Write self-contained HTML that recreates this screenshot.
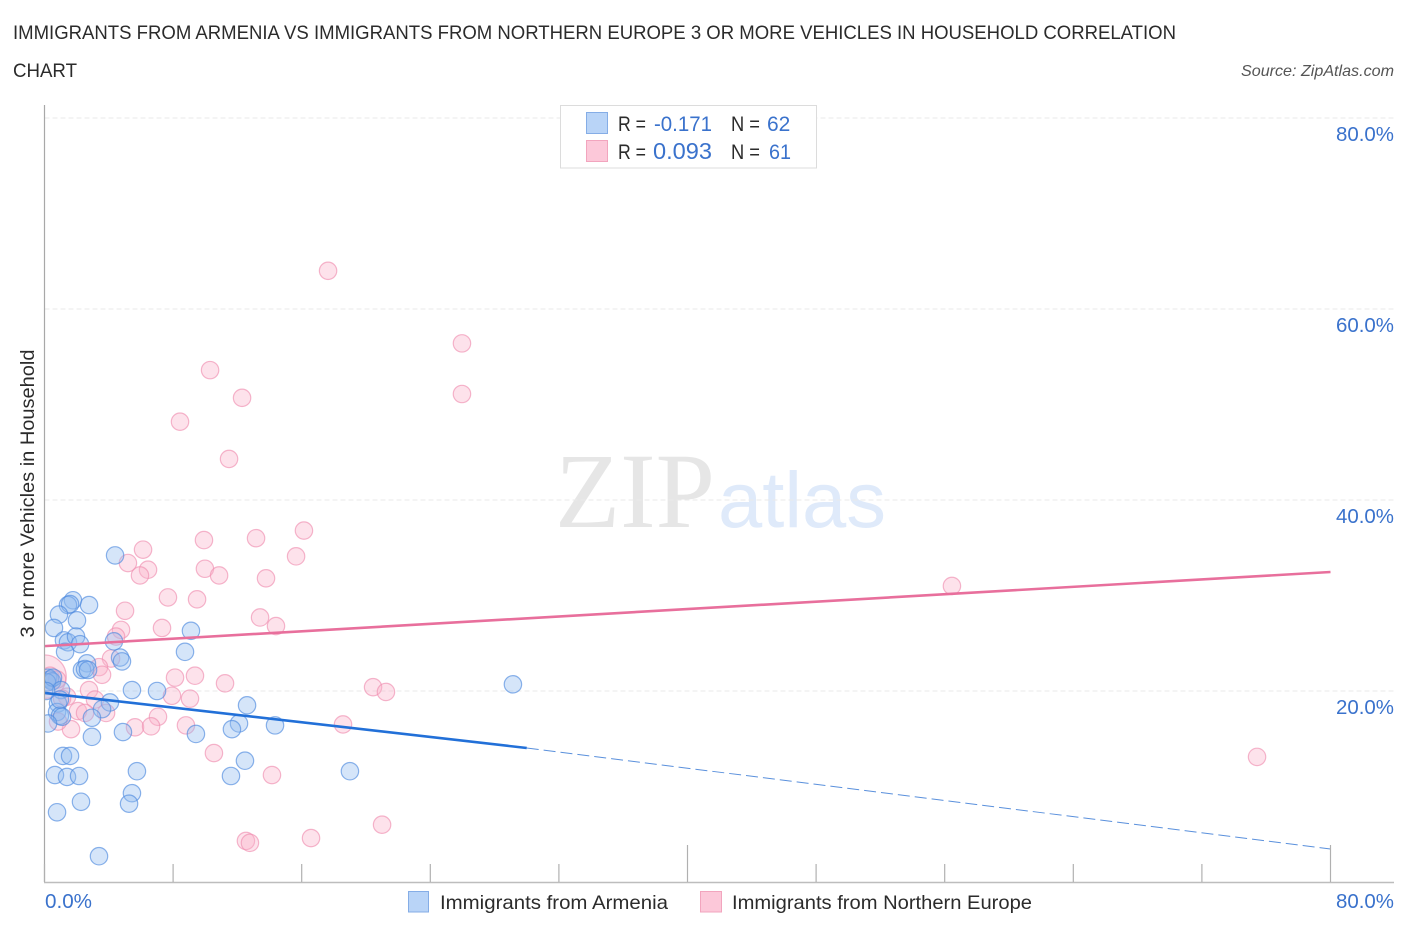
<!DOCTYPE html>
<html lang="en">
<head>
<meta charset="utf-8">
<title>Immigrants from Armenia vs Immigrants from Northern Europe</title>
<style>
html,body{margin:0;padding:0;background:#fff;width:1406px;height:930px;overflow:hidden}
svg{display:block;font-family:"Liberation Sans",sans-serif}
</style>
</head>
<body>
<svg id="chart" width="1406" height="930" viewBox="0 0 1406 930">
  <defs><clipPath id="plot-clip"><rect x="44.5" y="100" width="1350" height="782"/></clipPath></defs>
  <text x="13" y="39" font-size="19" fill="#2b2b2b" textLength="1163" lengthAdjust="spacingAndGlyphs">IMMIGRANTS FROM ARMENIA VS IMMIGRANTS FROM NORTHERN EUROPE 3 OR MORE VEHICLES IN HOUSEHOLD CORRELATION</text>
  <text x="13" y="77" font-size="19" fill="#2b2b2b" textLength="64" lengthAdjust="spacingAndGlyphs">CHART</text>
  <text x="1394" y="76" font-size="16" font-style="italic" fill="#555" text-anchor="end" textLength="153" lengthAdjust="spacingAndGlyphs">Source: ZipAtlas.com</text>

  <g id="watermark">
    <text x="555" y="527" font-family="'Liberation Serif',serif" font-size="107" fill="#e6e6e6" textLength="160" lengthAdjust="spacingAndGlyphs">ZIP</text>
    <text x="718" y="527" font-family="'Liberation Sans',sans-serif" font-size="79" fill="#dfeafa" textLength="168" lengthAdjust="spacingAndGlyphs">atlas</text>
  </g>

  <g id="grid"></g>
  <g id="points" clip-path="url(#plot-clip)"></g>
  <g id="trends"></g>
  <g id="axes"></g>

  <text transform="translate(34,493.5) rotate(-90)" font-size="19.5" fill="#2b2b2b" text-anchor="middle" textLength="288" lengthAdjust="spacingAndGlyphs">3 or more Vehicles in Household</text>

  <g>
    <rect x="560.5" y="105.5" width="256" height="62.5" fill="#fff" stroke="#dcdcdc"/>
    <rect x="586.5" y="112.5" width="21" height="21" fill="#b9d4f7" stroke="#85ade6"/>
    <rect x="586.5" y="140.5" width="21" height="21" fill="#fcc8d9" stroke="#f2a5be"/>
    <g font-size="21" fill="#2b2b2b">
      <text x="618" y="131" textLength="28" lengthAdjust="spacingAndGlyphs">R =</text>
      <text x="654" y="131" fill="#3a72cc" textLength="58" lengthAdjust="spacingAndGlyphs">-0.171</text>
      <text x="731" y="131" textLength="29" lengthAdjust="spacingAndGlyphs">N =</text>
      <text x="767" y="131" fill="#3a72cc">62</text>
      <text x="618" y="159" textLength="28" lengthAdjust="spacingAndGlyphs">R =</text>
      <text x="653" y="159" fill="#3a72cc" font-size="23" textLength="59" lengthAdjust="spacingAndGlyphs">0.093</text>
      <text x="731" y="159" textLength="29" lengthAdjust="spacingAndGlyphs">N =</text>
      <text x="769" y="159" fill="#3a72cc" textLength="22" lengthAdjust="spacingAndGlyphs">61</text>
    </g>
  </g>

  <g>
    <rect x="408.5" y="891.5" width="20" height="20.5" fill="#b9d4f7" stroke="#85ade6"/>
    <text x="440" y="909" font-size="19.5" fill="#2b2b2b" textLength="228" lengthAdjust="spacingAndGlyphs">Immigrants from Armenia</text>
    <rect x="700.5" y="891.5" width="21" height="20.5" fill="#fcc8d9" stroke="#f2a5be"/>
    <text x="732" y="909" font-size="19.5" fill="#2b2b2b" textLength="300" lengthAdjust="spacingAndGlyphs">Immigrants from Northern Europe</text>
  </g>
</svg>
<script>
const yTickValues = [20, 40, 60, 80];
const yTickLabels = ["20.0%", "40.0%", "60.0%", "80.0%"];
const xTickValues = [0, 8, 16, 24, 32, 40, 48, 56, 64, 72, 80];
const xTallTicks = [40, 80];
const xEndLabels = ["0.0%", "80.0%"];

const armeniaX = [4.39,1.77,1.46,1.59,2.77,0.90,2.02,0.59,1.21,1.46,1.96,2.21,1.28,9.11,8.74,4.32,4.70,4.82,2.64,2.33,2.52,2.71,29.14,5.44,7.00,0.22,0.34,0.47,0.16,0.53,1.03,4.07,3.58,0.84,0.78,0.96,1.09,0.22,2.95,12.60,12.10,11.66,14.34,9.42,4.88,2.95,12.47,11.60,5.75,19.00,1.15,1.59,0.65,1.40,2.15,5.44,5.26,2.27,0.78,3.39,0.96,0.10];
const armeniaY = [34.2,29.5,29.0,29.1,29.0,28.0,27.4,26.6,25.3,25.1,25.7,24.9,24.1,26.3,24.1,25.2,23.5,23.1,22.9,22.2,22.3,22.2,20.7,20.1,20.0,21.4,21.2,21.0,20.9,21.4,20.1,18.8,18.1,18.7,17.8,17.4,17.3,16.6,17.2,18.5,16.6,16.0,16.4,15.5,15.7,15.2,12.7,11.1,11.6,11.6,13.2,13.2,11.2,11.0,11.1,9.3,8.2,8.4,7.3,2.7,19.1,20.0];

const europeX = [0.00,0.34,0.78,17.64,25.97,25.97,10.30,12.29,8.43,11.48,16.14,6.13,13.16,9.92,15.65,9.98,5.19,6.44,5.94,10.86,13.78,5.01,7.68,9.49,13.41,14.40,56.45,4.76,7.31,4.45,4.14,3.39,3.58,9.36,8.12,11.23,2.77,20.44,21.24,7.93,9.05,3.14,1.40,1.09,3.83,7.06,8.80,18.57,5.63,6.63,2.08,2.52,1.65,0.84,10.54,14.15,12.53,12.78,16.58,21.00,75.43];
const europeY = [21.5,21.6,21.2,64.0,56.4,51.1,53.6,50.7,48.2,44.3,36.8,34.8,36.0,35.8,34.1,32.8,33.4,32.7,32.1,32.1,31.8,28.4,29.8,29.6,27.7,26.8,31.0,26.4,26.6,25.7,23.4,22.5,21.7,21.6,21.4,20.8,20.1,20.4,19.9,19.5,19.2,19.1,19.4,19.2,17.7,17.3,16.4,16.5,16.2,16.3,17.9,17.7,16.0,16.8,13.5,11.2,4.3,4.1,4.6,6.0,13.1];
const europeWeight = [2.5];

const armeniaTrendX = [0, 30, 80];
const armeniaTrendY = [19.8, 14.03, 3.46];
const europeTrendX = [0, 80];
const europeTrendY = [24.7, 32.46];

const NS = "http://www.w3.org/2000/svg";
const xScale = v => 44.5 + v * 16.075;
const yScale = v => 882 - v * 9.55;
const BASE_R = 8.7;

function make(tag, attrs, parent) {
  const el = document.createElementNS(NS, tag);
  Object.keys(attrs).forEach(k => el.setAttribute(k, attrs[k]));
  parent.appendChild(el);
  return el;
}

const grid = document.getElementById("grid");
const axes = document.getElementById("axes");
const points = document.getElementById("points");
const trends = document.getElementById("trends");

yTickValues.forEach((v, i) => {
  const line = make("line", {x1: 44.5, x2: 1394, y1: yScale(v), y2: yScale(v), stroke: "#e9e9e9", "stroke-width": 1, "stroke-dasharray": "5 3"}, grid);
  
  
  const label = make("text", {x: 1394, y: yScale(v) + 23, "font-size": 20, fill: "#3a72cc", "text-anchor": "end", textLength: 58, lengthAdjust: "spacingAndGlyphs"}, axes);
  label.textContent = yTickLabels[i];
  
  
});

const yAxis = make("line", {x1: 44.5, x2: 44.5, y1: 105, y2: 882, stroke: "#a8a8a8", "stroke-width": 1.2}, axes);


const xAxis = make("line", {x1: 44, x2: 1394, y1: 882.5, y2: 882.5, stroke: "#bdbdbd", "stroke-width": 1.5}, axes);



xTickValues.forEach(v => {
  const tall = xTallTicks.includes(v);
  const tick = make("line", {x1: xScale(v), x2: xScale(v), y1: tall ? 845 : 864, y2: 882, stroke: "#b0b0b0", "stroke-width": 1.2}, axes);
  
  
});

const xLabelStart = make("text", {x: 45, y: 908, "font-size": 20, fill: "#3a72cc", textLength: 47, lengthAdjust: "spacingAndGlyphs"}, axes);
xLabelStart.textContent = xEndLabels[0];


const xLabelEnd = make("text", {x: 1394, y: 908, "font-size": 20, fill: "#3a72cc", "text-anchor": "end", textLength: 58, lengthAdjust: "spacingAndGlyphs"}, axes);
xLabelEnd.textContent = xEndLabels[1];



europeX.forEach((x, i) => {
  const c = make("circle", {cx: xScale(x), cy: yScale(europeY[i]), r: BASE_R * (europeWeight[i] || 1), fill: "#f9b4ca", "fill-opacity": 0.38, stroke: "#f08fb0", "stroke-opacity": 0.65, "stroke-width": 1.2}, points);
  
  
});
armeniaX.forEach((x, i) => {
  const c = make("circle", {cx: xScale(x), cy: yScale(armeniaY[i]), r: BASE_R, fill: "#90bbef", "fill-opacity": 0.38, stroke: "#4f8ade", "stroke-opacity": 0.65, "stroke-width": 1.2}, points);
  
  
});

const blueSolid = make("line", {x1: xScale(armeniaTrendX[0]), y1: yScale(armeniaTrendY[0]), x2: xScale(armeniaTrendX[1]), y2: yScale(armeniaTrendY[1]), stroke: "#2270d8", "stroke-width": 2.6}, trends);


const blueDash = make("line", {x1: xScale(armeniaTrendX[1]), y1: yScale(armeniaTrendY[1]), x2: xScale(armeniaTrendX[2]), y2: yScale(armeniaTrendY[2]), stroke: "#5a90dc", "stroke-width": 1, "stroke-dasharray": "12 5"}, trends);


const pinkSolid = make("line", {x1: xScale(europeTrendX[0]), y1: yScale(europeTrendY[0]), x2: xScale(europeTrendX[1]), y2: yScale(europeTrendY[1]), stroke: "#e86f9c", "stroke-width": 2.6}, trends);


</script>
</body>
</html>
